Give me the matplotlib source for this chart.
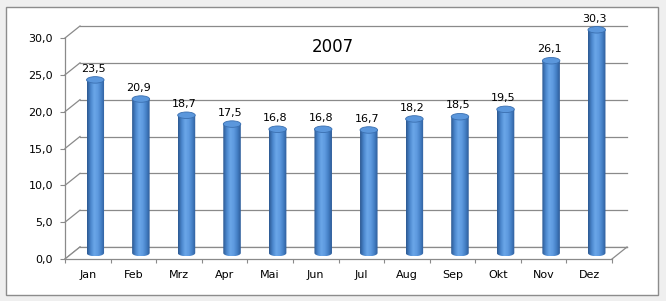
import numpy as np
import matplotlib.pyplot as plt
from matplotlib.patches import Rectangle, Ellipse, PathPatch, Polygon
from matplotlib.path import Path
from matplotlib.colors import LinearSegmentedColormap

# --- data ---
months = ['Jan', 'Feb', 'Mrz', 'Apr', 'Mai', 'Jun', 'Jul', 'Aug', 'Sep', 'Okt', 'Nov', 'Dez']
values = [23.5, 20.9, 18.7, 17.5, 16.8, 16.8, 16.7, 18.2, 18.5, 19.5, 26.1, 30.3]
yticks = [0, 5, 10, 15, 20, 25, 30]
title = '2007'

W, H = 666, 301
GRID = '#8a8a8a'
bar_cmap = LinearSegmentedColormap.from_list(
    'cyl', ['#2c5891', '#4a86cc', '#6aa6e8', '#5f9be0', '#4580c6', '#2d5b98'])

fig = plt.figure(figsize=(W / 100, H / 100), dpi=100)
fig.patch.set_facecolor('#efefef')
fig.patches.append(Rectangle((6 / W, 6 / H), 652 / W, 288 / H, transform=fig.transFigure,
                             facecolor='white', edgecolor='#8c8c8c', lw=1, zorder=-1))

ax = fig.add_axes([65 / W, 42 / H, 547 / W, 221 / H])
ax.set_zorder(1)
ax.patch.set_visible(False)
n = len(months)
ax.set_xlim(-0.5, n - 0.5)
ax.set_ylim(yticks[0], yticks[-1])

# depth of the 3D box in pixels -> data units
px_x = ax.bbox.width / n
px_y = ax.bbox.height / (yticks[-1] - yticks[0])
dx, dy = 15 / px_x, 12 / px_y
x0, x1 = -0.5, n - 0.5

# back wall gridlines + side wall diagonals
for v in yticks:
    ax.plot([x0 + dx, x1 + dx], [v + dy, v + dy], color=GRID, lw=0.9, clip_on=False, zorder=1)
    ax.plot([x0, x0 + dx], [v, v + dy], color=GRID, lw=0.9, clip_on=False, zorder=1)
# floor
ax.add_patch(Polygon([[x0, 0], [x1, 0], [x1 + dx, dy], [x0 + dx, dy]], closed=True,
                     facecolor='white', edgecolor='none', clip_on=False, zorder=1.5))
ax.plot([x0 + dx, x1 + dx], [dy, dy], color=GRID, lw=0.9, clip_on=False, zorder=1.6)
ax.plot([x1, x1 + dx], [0, dy], color=GRID, lw=0.9, clip_on=False, zorder=1.6)
ax.plot([x0, x0 + dx], [0, dy], color=GRID, lw=0.9, clip_on=False, zorder=1.6)

# cylinders
w = 17.5 / px_x
eh = 6.5 / px_y
grad = np.linspace(0, 1, 64).reshape(1, -1)
t = np.linspace(np.pi, 2 * np.pi, 40)
for i, v in enumerate(values):
    c = i + dx / 2
    base = dy / 2
    pts = [(c + w / 2 * np.cos(a), base + eh / 2 * np.sin(a)) for a in t]
    pts += [(c + w / 2, base + v), (c - w / 2, base + v), pts[0]]
    clip = PathPatch(Path(pts), transform=ax.transData, facecolor='none', edgecolor='none')
    ax.add_patch(clip)
    im = ax.imshow(grad, cmap=bar_cmap, aspect='auto', interpolation='bilinear',
                   extent=(c - w / 2, c + w / 2, base - eh / 2, base + v), zorder=3)
    im.set_clip_box(fig.bbox)
    im.set_clip_path(clip)
    ax.add_patch(Ellipse((c, base + v), w, eh, facecolor='#5b97dc', edgecolor='#3a6fb0',
                         lw=0.6, clip_on=False, zorder=4))
    ax.annotate(f'{v:.1f}'.replace('.', ','), (c, base + v + eh / 2), xytext=(-2, 3),
                textcoords='offset pixels', ha='center', va='bottom', fontsize=8,
                color='black', zorder=5, annotation_clip=False)

ax.set_xlim(x0, x1)
ax.set_ylim(yticks[0], yticks[-1])

# axes
for s in ['top', 'right']:
    ax.spines[s].set_visible(False)
for s in ['left', 'bottom']:
    ax.spines[s].set_color(GRID)
    ax.spines[s].set_linewidth(0.9)
    ax.spines[s].set_zorder(2)
ax.set_yticks(yticks)
ax.set_yticklabels([f'{v:.1f}'.replace('.', ',') for v in yticks])
ax.tick_params(axis='y', length=3.6, width=0.8, color=GRID, pad=5, labelsize=8)
ax.set_xticks(range(n))
ax.set_xticklabels(months)
ax.set_xticks(np.arange(n + 1) - 0.5, minor=True)
ax.tick_params(axis='x', which='major', length=0, pad=8, labelsize=8)
ax.tick_params(axis='x', which='minor', length=3, width=0.8, color=GRID)

fig.text(333 / W, 1 - 47 / H, title, ha='center', va='center', fontsize=12)

fig.savefig('out.png', dpi=100, facecolor=fig.get_facecolor())
